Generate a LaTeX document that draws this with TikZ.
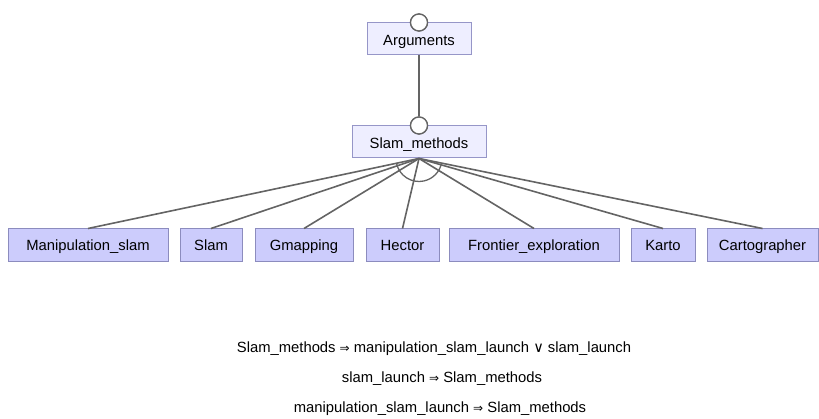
\documentclass[tikz,border=0pt]{standalone}
\usepackage{fontspec}
\setmainfont{Liberation Sans}
\newfontfamily\symfont{DejaVu Sans}
\usetikzlibrary{calc}
\definecolor{featfill}{RGB}{204,204,252}
\definecolor{featedge}{RGB}{140,140,190}
\definecolor{absfill}{RGB}{238,238,255}
\definecolor{absedge}{RGB}{150,150,200}
\definecolor{linkgray}{RGB}{100,100,100}
\newcommand{\impsym}{{\symfont\fontsize{12}{14}\selectfont ⇒}}
\newcommand{\orsym}{{\symfont\fontsize{14.5}{17}\selectfont ∨}}
\tikzset{
  feat/.style={draw=featedge, fill=featfill, line width=1pt, minimum height=33pt,
    inner sep=0pt, text height=10.6pt, text depth=0pt, font=\fontsize{14.8}{17}\selectfont},
  absfeat/.style={feat, draw=absedge, fill=absfill, minimum height=32pt, text height=13.6pt},
  link/.style={draw=linkgray, line width=1.6pt},
  optmark/.style={circle, draw=linkgray, fill=white, line width=1.3pt, minimum size=17pt, inner sep=0pt},
  rule/.style={font=\fontsize{14.8}{17}\selectfont, inner sep=0pt}
}
\begin{document}
\begin{tikzpicture}[x=1pt,y=1pt]
\useasboundingbox (0,0) rectangle (819,419);
% feature nodes
\node[absfeat, minimum width=104pt] (args) at (419,380) {Arguments};
\node[absfeat, minimum width=134pt] (sm) at (419,277) {Slam\_methods};
\node[feat, minimum width=160pt] (ms) at (88,173.5) {Manipulation\_slam};
\node[feat, minimum width=62pt] (sl) at (211,173.5) {Slam};
\node[feat, minimum width=98pt] (gm) at (304,173.5) {Gmapping};
\node[feat, minimum width=73pt] (he) at (402.5,173.5) {Hector};
\node[feat, minimum width=170pt] (fe) at (534,173.5) {Frontier\_exploration};
\node[feat, minimum width=64pt] (ka) at (663,173.5) {Karto};
\node[feat, minimum width=111pt] (ca) at (762.5,173.5) {Cartographer};
% optional markers
\node[optmark] (argsopt) at (args.north) {};
\node[optmark] (smopt) at (sm.north) {};
% connectors
\draw[link] (args.south) -- (smopt.north);
\foreach \c in {ms,sl,gm,he,fe,ka,ca}{
  \draw[link] (sm.south) -- (\c.north);
}
% or-group arc
\draw[linkgray, line width=1.3pt] ($(sm.south)+(192:23)$) arc[start angle=192, end angle=348, radius=23];
% redraw the markers above the lines
\node[optmark] at (args.north) {};
\node[optmark] at (sm.north) {};
% cross-tree constraints
\node[rule] (c1) at (434,70) {Slam\_methods \impsym{} manipulation\_slam\_launch \orsym{} slam\_launch};
\node[rule] (c2) at (442,40) {slam\_launch \impsym{} Slam\_methods};
\node[rule] (c3) at (440,10) {manipulation\_slam\_launch \impsym{} Slam\_methods};
\end{tikzpicture}
\end{document}
